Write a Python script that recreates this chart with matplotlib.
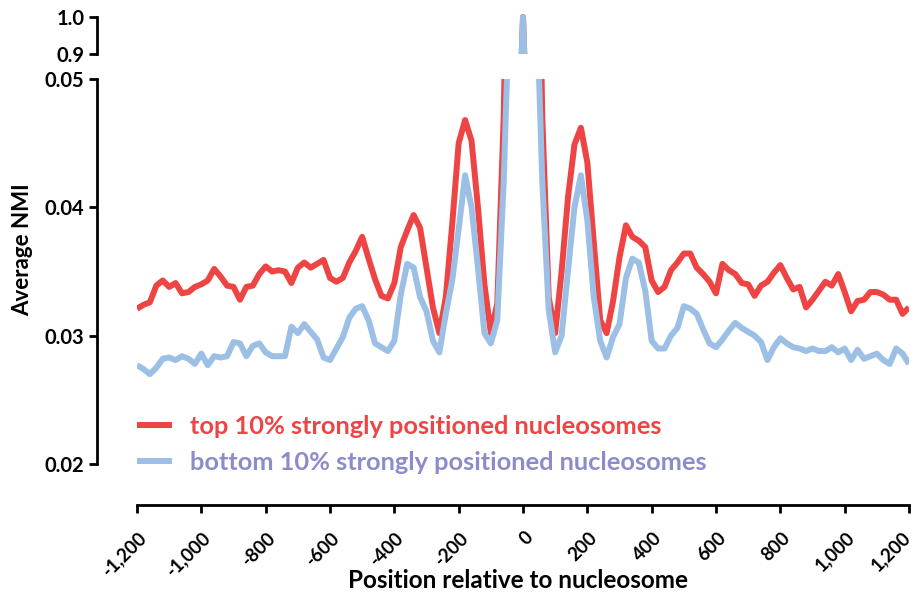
import numpy as np
import matplotlib.pyplot as plt
import matplotlib.transforms as mtransforms
from matplotlib.ticker import FuncFormatter

plt.rcParams['font.family'] = ['Lato', 'DejaVu Sans']
plt.rcParams['font.weight'] = 'bold'

# posicion relativa al nucleosoma (pb), paso de 20
positions = np.arange(-1200, 1201, 20)

# top 10% strongly positioned
top_nmi = [
    0.0321, 0.0324, 0.0326, 0.0339, 0.0343, 0.0338, 0.0341, 0.0333, 0.0334, 0.0338,
    0.0340, 0.0343, 0.0352, 0.0346, 0.0339, 0.0338, 0.0328, 0.0338, 0.0339, 0.0348,
    0.0354, 0.0350, 0.0351, 0.0350, 0.0341, 0.0353, 0.0357, 0.0353, 0.0356, 0.0359,
    0.0345, 0.0342, 0.0345, 0.0357, 0.0366, 0.0377, 0.0360, 0.0344, 0.0331, 0.0329,
    0.0341, 0.0369, 0.0382, 0.0394, 0.0384, 0.0353, 0.0322, 0.0302, 0.0330, 0.0387,
    0.0450, 0.0468, 0.0452, 0.0400, 0.0340, 0.0302, 0.0325, 0.047, 0.075, 0.5,
    1.0,
    0.5, 0.075, 0.047, 0.0330, 0.0302, 0.0350, 0.0408, 0.0449, 0.0462, 0.0435,
    0.0373, 0.0312, 0.0302, 0.0327, 0.0361, 0.0386, 0.0377, 0.0374, 0.0369, 0.0343,
    0.0334, 0.0338, 0.0351, 0.0357, 0.0364, 0.0364, 0.0353, 0.0348, 0.0342, 0.0333,
    0.0356, 0.0351, 0.0348, 0.0341, 0.0340, 0.0331, 0.0339, 0.0342, 0.0349, 0.0355,
    0.0345, 0.0336, 0.0338, 0.0322, 0.0328, 0.0335, 0.0342, 0.0339, 0.0348, 0.0334,
    0.0319, 0.0327, 0.0328, 0.0334, 0.0334, 0.0332, 0.0328, 0.0328, 0.0317, 0.0322,
]

# bottom 10% strongly positioned
bottom_nmi = [
    0.0277, 0.0274, 0.0270, 0.0275, 0.0282, 0.0283, 0.0281, 0.0284, 0.0282, 0.0278,
    0.0286, 0.0277, 0.0284, 0.0283, 0.0284, 0.0295, 0.0294, 0.0284, 0.0292, 0.0294,
    0.0287, 0.0284, 0.0284, 0.0284, 0.0307, 0.0302, 0.0309, 0.0303, 0.0297, 0.0283,
    0.0281, 0.0290, 0.0299, 0.0314, 0.0321, 0.0323, 0.0312, 0.0294, 0.0291, 0.0288,
    0.0296, 0.0332, 0.0356, 0.0353, 0.0330, 0.0319, 0.0296, 0.0287, 0.0317, 0.0343,
    0.0383, 0.0425, 0.0400, 0.0353, 0.0302, 0.0294, 0.0312, 0.042, 0.058, 0.5,
    1.0,
    0.5, 0.058, 0.042, 0.0320, 0.0287, 0.0300, 0.0351, 0.0400, 0.0425, 0.0390,
    0.0330, 0.0296, 0.0283, 0.0299, 0.0309, 0.0345, 0.0360, 0.0357, 0.0335, 0.0296,
    0.0290, 0.0290, 0.0300, 0.0306, 0.0323, 0.0321, 0.0317, 0.0305, 0.0294, 0.0291,
    0.0297, 0.0304, 0.0310, 0.0306, 0.0303, 0.0300, 0.0295, 0.0281, 0.0291, 0.0298,
    0.0294, 0.0291, 0.0290, 0.0288, 0.0290, 0.0288, 0.0288, 0.0291, 0.0287, 0.0290,
    0.0281, 0.0289, 0.0282, 0.0284, 0.0286, 0.0281, 0.0278, 0.0290, 0.0286, 0.0278,
]

labels = ['top 10% strongly positioned nucleosomes',
          'bottom 10% strongly positioned nucleosomes']
line_colors = ['#EE4444', '#9BBFE5']
text_colors = ['#EE4444', '#8C8CCB']
x_ticks = np.arange(-1200, 1201, 200)

W, H = 916, 597
fig = plt.figure(figsize=(W / 100, H / 100), dpi=100)

def rect(x0, y0, x1, y1):
    # pixeles (origen arriba a la izquierda) -> fraccion de figura
    return [x0 / W, 1 - y1 / H, (x1 - x0) / W, (y1 - y0) / H]

ax = fig.add_axes(rect(137, 79, 909, 464))
ax_top = fig.add_axes(rect(137, 13, 909, 54), sharex=ax)

for a in (ax, ax_top):
    for series, c, lab in zip((top_nmi, bottom_nmi), line_colors, labels):
        a.plot(positions, series, color=c, lw=4.3, label=lab,
               solid_joinstyle='round', solid_capstyle='butt')
    a.spines['top'].set_visible(False)
    a.spines['right'].set_visible(False)
    a.spines['left'].set_linewidth(2)
    a.spines['left'].set_position(('outward', 29))
    a.tick_params(axis='y', width=2, length=6, labelsize=14.5, pad=3)

ax.set_xlim(-1200, 1200)
ax.set_ylim(0.02, 0.05)
ax.set_yticks([0.02, 0.03, 0.04, 0.05])
ax.set_yticklabels(['0.02', '0.03', '0.04', '0.05'])
ax.spines['bottom'].set_linewidth(2)
ax.spines['bottom'].set_position(('outward', 29.5))
ax.set_xticks(x_ticks)
ax.xaxis.set_major_formatter(FuncFormatter(lambda v, p: f"{int(v):,}"))
ax.tick_params(axis='x', width=2, length=6, labelsize=13.5, pad=11)
xlabels = ax.get_xticklabels()
for i, t in enumerate(xlabels):
    # la ultima etiqueta se corre un poco para que no se corte en el borde
    dx = -7 if i == len(xlabels) - 1 else 1
    shift = mtransforms.ScaledTranslation(dx / 100, 0, fig.dpi_scale_trans)
    t.set_rotation(45)
    t.set_ha('right')
    t.set_rotation_mode('anchor')
    t.set_transform(t.get_transform() + shift)

ax_top.set_ylim(0.9, 1.0108)
ax_top.spines['left'].set_bounds(0.9, 1.0)
ax_top.set_yticks([0.9, 1.0])
ax_top.set_yticklabels(['0.9', '1.0'])
ax_top.spines['bottom'].set_visible(False)
ax_top.tick_params(axis='x', bottom=False, labelbottom=False)

leg = ax.legend(loc='upper left', bbox_to_anchor=(137 / W, 1 - 415 / H),
                bbox_transform=fig.transFigure, frameon=False, fontsize=18.3,
                handlelength=1.38, handletextpad=0.7, labelspacing=0.5,
                borderpad=0, borderaxespad=0, labelcolor=text_colors)

fig.text(518 / W, 1 - 581 / H, 'Position relative to nucleosome',
         ha='center', va='center', fontsize=17.5)
fig.text(23 / W, 1 - 250 / H, 'Average NMI', rotation=90,
         ha='center', va='center', fontsize=16)

fig.savefig('out.png', dpi=100)
